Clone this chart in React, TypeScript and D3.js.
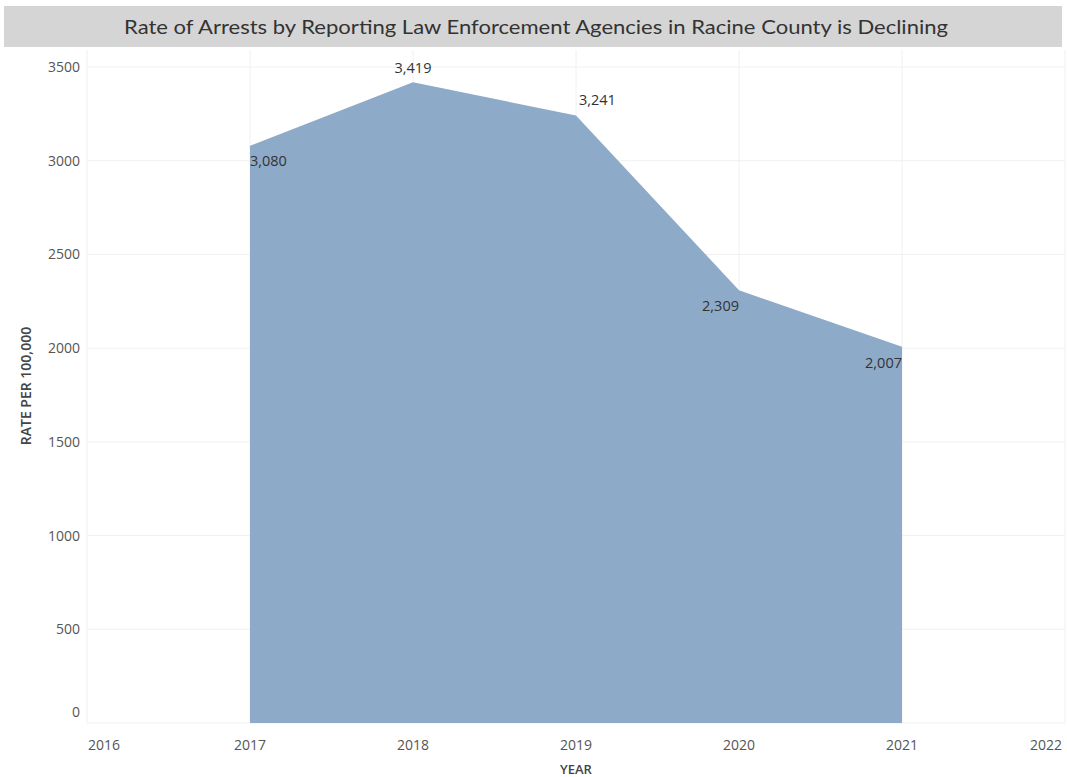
import React from "react";
import * as d3 from "d3";

const years = [2017, 2018, 2019, 2020, 2021];
const rates = [3080, 3419, 3241, 2309, 2007];
const xTicks = [2016, 2017, 2018, 2019, 2020, 2021, 2022];
const yTicks = [0, 500, 1000, 1500, 2000, 2500, 3000, 3500];
const labelPos = ["right-below", "above", "right-above", "left-below", "left-below"];

export default function App() {
  const W = 1067, H = 777;
  const x = d3.scaleLinear().domain([2016, 2022]).range([87, 1065]);
  const y = d3.scaleLinear().domain([0, 3500]).range([723, 67]);
  const data = years.map((yr, i) => ({ yr, v: rates[i] }));
  const area = d3.area<{ yr: number; v: number }>()
    .x(d => x(d.yr)).y0(y(0)).y1(d => y(d.v));
  const fmt = d3.format(",");
  const font = "'Open Sans', 'Noto Sans', sans-serif";
  return (
    <svg width={W} height={H} style={{ position: "absolute", left: 0, top: 0, background: "#fff" }} fontFamily={font}>
      <rect x={4} y={6} width={1058} height={41} fill="#d5d5d5" />
      <text x={536} y={34} textAnchor="middle" fontSize={20} fill="#333" fontFamily="Lato, 'Open Sans', sans-serif"
        textLength={824} lengthAdjust="spacingAndGlyphs">
        Rate of Arrests by Reporting Law Enforcement Agencies in Racine County is Declining
      </text>
      {xTicks.map(t => (
        <line key={"vx" + t} x1={x(t)} x2={x(t)} y1={50} y2={723} stroke="#f0f0f0" strokeWidth={1} />
      ))}
      {yTicks.map(t => (
        <line key={"hy" + t} x1={87} x2={1065} y1={y(t)} y2={y(t)} stroke="#f0f0f0" strokeWidth={1} />
      ))}
      <path d={area(data) || ""} fill="#8eaac9" />
      {yTicks.map(t => (
        <text key={"yl" + t} x={80} y={t === 0 ? y(t) - 6 : y(t) + 5} textAnchor="end" fontSize={14} fill="#555">{t}</text>
      ))}
      {xTicks.map((t, i) => (
        <text key={"xl" + t} x={i === 0 ? x(t) + 1 : i === xTicks.length - 1 ? x(t) - 3 : x(t)} y={750}
          textAnchor={i === 0 ? "start" : i === xTicks.length - 1 ? "end" : "middle"} fontSize={14} fill="#555">{t}</text>
      ))}
      {data.map((d, i) => {
        const p = labelPos[i];
        let lx = x(d.yr), ly = y(d.v), anchor: "start" | "middle" | "end" = "middle";
        if (p === "above") { ly -= 9; }
        else if (p === "right-below") { lx += 0; ly += 20; anchor = "start"; }
        else if (p === "right-above") { lx += 3; ly -= 11; anchor = "start"; }
        else if (p === "left-below") { lx -= 0; ly += 21; anchor = "end"; }
        return (
          <text key={"dl" + i} x={lx} y={ly} textAnchor={anchor} fontSize={14.5} fill="#333">{fmt(d.v)}</text>
        );
      })}
      <text transform={`translate(31,${386}) rotate(-90)`} textAnchor="middle" fontSize={14} fontWeight={600} fill="#444">RATE PER 100,000</text>
      <text x={576} y={774} textAnchor="middle" fontSize={13} fontWeight={600} fill="#444">YEAR</text>
    </svg>
  );
}
